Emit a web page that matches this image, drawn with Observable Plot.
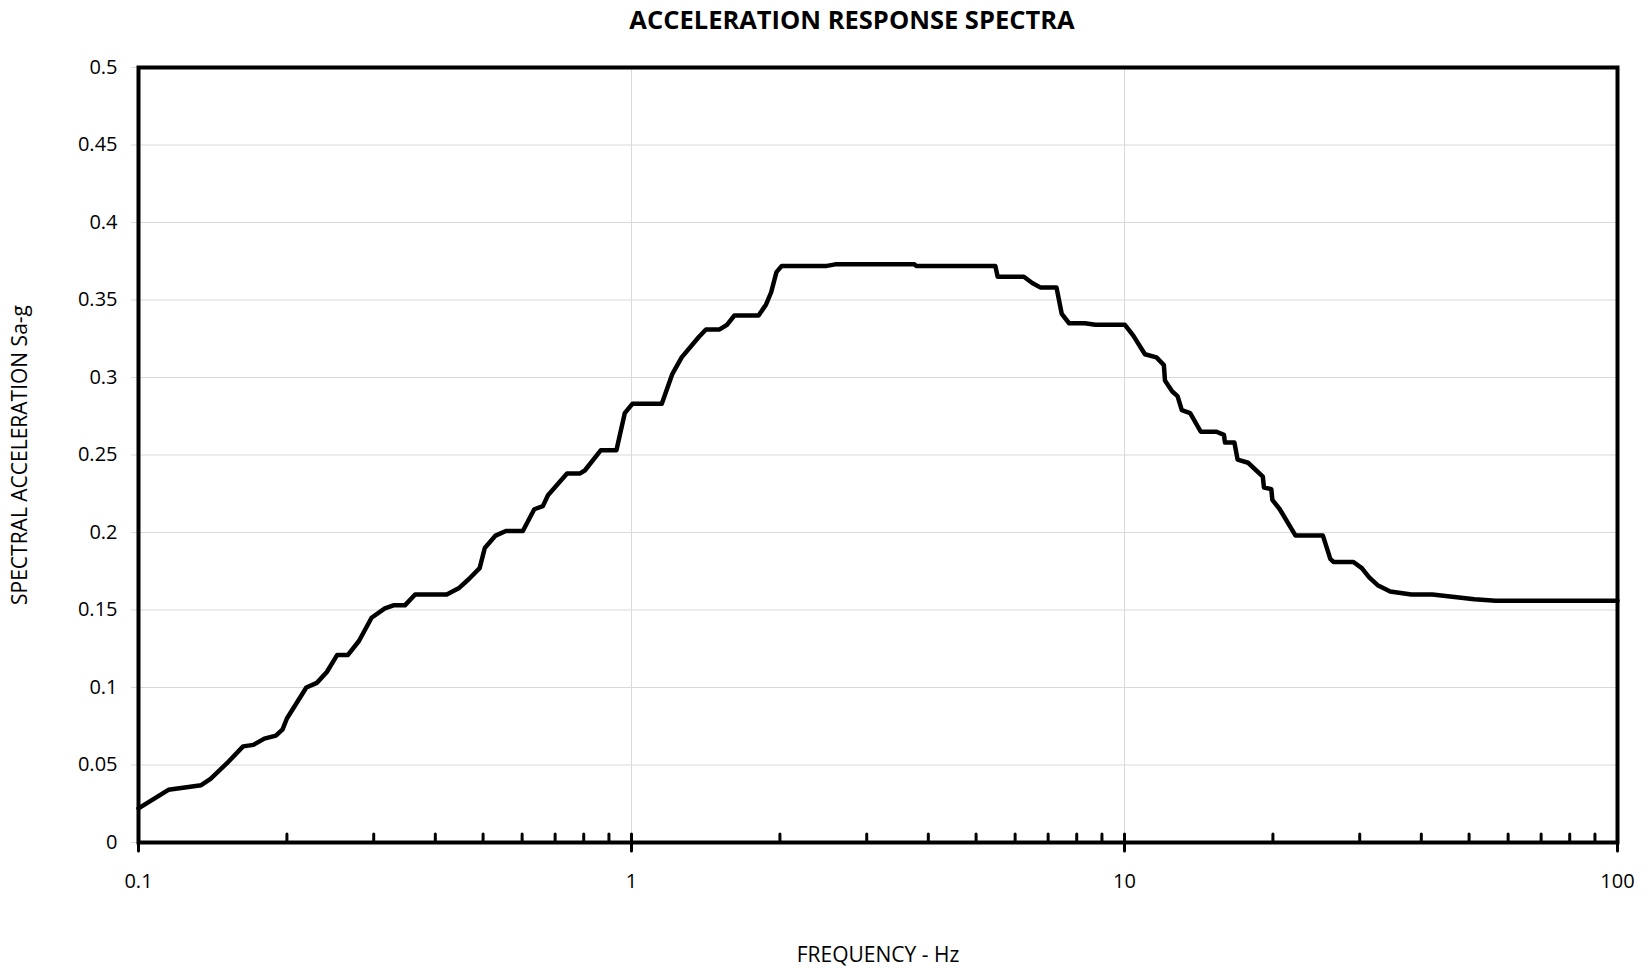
<!DOCTYPE html>
<html>
<head>
<meta charset="utf-8">
<script src="https://cdn.jsdelivr.net/npm/d3@7"></script>
<script src="https://cdn.jsdelivr.net/npm/@observablehq/plot@0.6"></script>
<style>
  html, body { margin: 0; padding: 0; background: #fff; }
  #chart { width: 1650px; height: 969px; }
</style>
</head>
<body>
<div id="chart"></div>
<script>
const title = "ACCELERATION RESPONSE SPECTRA";
const xTitle = "FREQUENCY - Hz";
const yTitle = "SPECTRAL ACCELERATION Sa-g";

const freq = [0.1, 0.115, 0.134, 0.140, 0.151, 0.163, 0.171, 0.180, 0.190, 0.196, 0.200, 0.219, 0.230, 0.241, 0.253, 0.266, 0.280, 0.297, 0.316, 0.329, 0.347, 0.364, 0.422, 0.446, 0.468, 0.492, 0.504, 0.530, 0.556, 0.602, 0.635, 0.661, 0.677, 0.740, 0.785, 0.804, 0.866, 0.932, 0.969, 1.004, 1.152, 1.209, 1.264, 1.368, 1.416, 1.509, 1.562, 1.617, 1.810, 1.874, 1.920, 1.968, 2.017, 2.49, 2.59, 3.75, 3.78, 5.47, 5.53, 6.25, 6.50, 6.76, 7.28, 7.46, 7.72, 8.31, 8.73, 10.02, 10.42, 11.00, 11.61, 12.02, 12.08, 12.50, 12.81, 13.07, 13.59, 14.28, 15.37, 15.91, 15.99, 16.71, 16.96, 17.81, 19.08, 19.18, 19.85, 19.95, 20.65, 22.23, 25.26, 26.15, 26.54, 29.13, 30.29, 31.36, 32.62, 34.59, 38.17, 42.11, 51.27, 56.57, 100];
const sa = [0.022, 0.034, 0.037, 0.041, 0.051, 0.062, 0.063, 0.067, 0.069, 0.073, 0.080, 0.100, 0.103, 0.110, 0.121, 0.121, 0.130, 0.145, 0.151, 0.153, 0.153, 0.160, 0.160, 0.164, 0.170, 0.177, 0.190, 0.198, 0.201, 0.201, 0.215, 0.217, 0.224, 0.238, 0.238, 0.240, 0.253, 0.253, 0.277, 0.283, 0.283, 0.302, 0.313, 0.326, 0.331, 0.331, 0.334, 0.340, 0.340, 0.347, 0.355, 0.368, 0.372, 0.372, 0.373, 0.373, 0.372, 0.372, 0.365, 0.365, 0.361, 0.358, 0.358, 0.341, 0.335, 0.335, 0.334, 0.334, 0.327, 0.315, 0.313, 0.308, 0.298, 0.291, 0.288, 0.279, 0.277, 0.265, 0.265, 0.263, 0.258, 0.258, 0.247, 0.245, 0.236, 0.229, 0.228, 0.221, 0.215, 0.198, 0.198, 0.183, 0.181, 0.181, 0.177, 0.171, 0.166, 0.162, 0.160, 0.160, 0.157, 0.156, 0.156];

const xMajorTicks = [0.1, 1, 10, 100];
const xMinorTicks = [0.1, 0.2, 0.3, 0.4, 0.5, 0.6, 0.7, 0.8, 0.9, 1, 2, 3, 4, 5, 6, 7, 8, 9, 10, 20, 30, 40, 50, 60, 70, 80, 90, 100];
const xGridTicks = [1, 10];
const yTicks = [0, 0.05, 0.1, 0.15, 0.2, 0.25, 0.3, 0.35, 0.4, 0.45, 0.5];

const rows = freq.map((f, i) => ({f, v: sa[i]}));

const chart = Plot.plot({
  width: 1650,
  height: 969,
  marginLeft: 138,
  marginRight: 33,
  marginTop: 67,
  marginBottom: 127,
  style: {fontFamily: "'Open Sans', sans-serif", fontSize: "20px", color: "black", background: "white"},
  x: {type: "log", domain: [0.1, 100]},
  y: {domain: [0, 0.5]},
  marks: [
    Plot.gridY({ticks: yTicks, stroke: "#d9d9d9", strokeOpacity: 1, strokeWidth: 1}),
    Plot.gridX({ticks: xGridTicks, stroke: "#d9d9d9", strokeOpacity: 1, strokeWidth: 1}),
    Plot.axisY({ticks: yTicks, tickSize: 7, tickPadding: 14, stroke: "#d9d9d9", fill: "black", label: null, tickFormat: d => String(d)}),
    Plot.line(rows, {x: "f", y: "v", stroke: "black", strokeWidth: 4.5, strokeLinejoin: "round", strokeLinecap: "round"}),
    Plot.frame({stroke: "black", strokeWidth: 4}),
    Plot.axisX({ticks: xMinorTicks, tickSize: 8, dy: -8, strokeWidth: 3, strokeLinecap: "round", tickFormat: () => "", label: null}),
    Plot.axisX({ticks: xMajorTicks, tickSize: 9, tickPadding: 22, strokeWidth: 3, strokeLinecap: "round", label: null, tickFormat: d => String(d)}),
    Plot.text([title], {frameAnchor: "top", dx: -26, dy: -47, lineAnchor: "middle", fontSize: 25.5, fontWeight: "bold"}),
    Plot.text([xTitle], {frameAnchor: "bottom", dy: 113, lineAnchor: "middle", fontSize: 21}),
    Plot.text([yTitle], {frameAnchor: "left", dx: -118, rotate: -90, lineAnchor: "middle", textAnchor: "middle", fontSize: 21})
  ]
});
document.getElementById("chart").appendChild(chart);
</script>
</body>
</html>
